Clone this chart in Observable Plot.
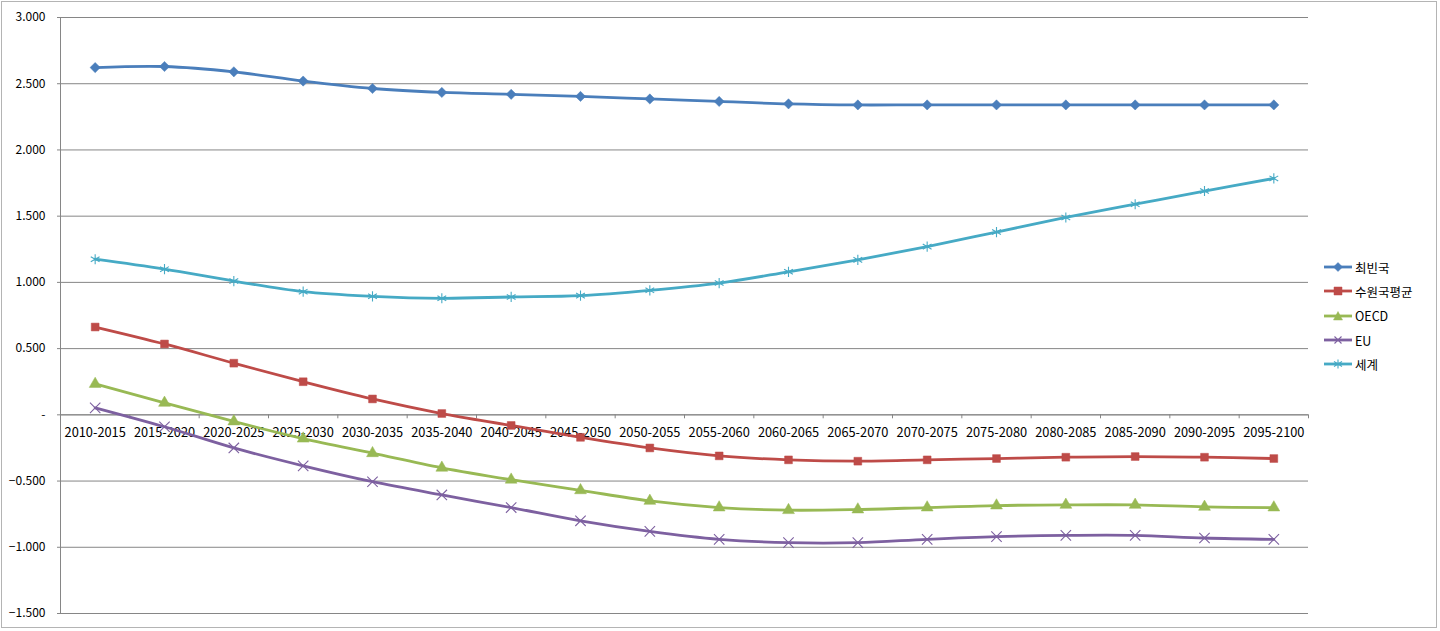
<!DOCTYPE html>
<html>
<head>
<meta charset="utf-8">
<script src="https://cdn.jsdelivr.net/npm/d3@7"></script>
<script src="https://cdn.jsdelivr.net/npm/@observablehq/plot@0.6"></script>
<style>
  body { margin: 0; background: #fff; }
  #wrap { position: relative; width: 1440px; height: 631px; overflow: hidden; }
  #border { position: absolute; left: 1px; top: 1px; width: 1434px; height: 625px; border: 1px solid #b4b4b4; pointer-events: none; }
  #legend { position: absolute; left: 1324px; top: 255px; font-family: 'Noto Sans CJK KR', 'Noto Sans', sans-serif; font-size: 12.5px; color: #000; }
  .row { display: flex; align-items: center; height: 24.3px; }
  .row svg { margin-right: 3px; }
</style>
</head>
<body>
<div id="wrap"><div id="chart"></div><div id="legend"></div><div id="border"></div></div>
<script>
const categories = ["2010-2015","2015-2020","2020-2025","2025-2030","2030-2035","2035-2040","2040-2045","2045-2050","2050-2055","2055-2060","2060-2065","2065-2070","2070-2075","2075-2080","2080-2085","2085-2090","2090-2095","2095-2100"];
const seriesNames = ["최빈국","수원국평균","OECD","EU","세계"];
const poorest = [2.622,2.630,2.590,2.520,2.464,2.434,2.420,2.404,2.385,2.366,2.348,2.340,2.340,2.340,2.340,2.340,2.340,2.340];
const recipientAvg = [0.663,0.535,0.390,0.250,0.120,0.010,-0.080,-0.170,-0.250,-0.310,-0.340,-0.350,-0.340,-0.330,-0.320,-0.315,-0.320,-0.330];
const oecd = [0.233,0.090,-0.050,-0.180,-0.290,-0.400,-0.490,-0.570,-0.650,-0.700,-0.720,-0.715,-0.700,-0.685,-0.680,-0.680,-0.695,-0.700];
const eu = [0.053,-0.090,-0.250,-0.385,-0.505,-0.605,-0.700,-0.800,-0.880,-0.940,-0.965,-0.965,-0.940,-0.920,-0.910,-0.910,-0.930,-0.940];
const world = [1.175,1.100,1.010,0.930,0.895,0.880,0.890,0.900,0.940,0.995,1.080,1.170,1.270,1.380,1.490,1.590,1.690,1.785];
const yTicks = [-1.5,-1,-0.5,0,0.5,1,1.5,2,2.5,3];

const seriesValues = [poorest, recipientAvg, oecd, eu, world];
const colors = ["#4A7EBB","#BE4B48","#98B954","#7D60A0","#46AAC5"];
const symbols = ["diamond2","square","triangle","times","asterisk"];
const filled = [true,true,true,false,false];

const W = 1440, H = 631, ML = 60, MR = 132, MT = 17, MB = 18;
const step = (W - ML - MR) / categories.length;

const data = seriesNames.flatMap((s, i) => seriesValues[i].map((v, j) => ({series: s, period: categories[j], value: v})));

const marks = [
  Plot.gridY(yTicks, {stroke: "#868686", strokeOpacity: 1}),
  Plot.axisY(yTicks, {tickSize: 3, tickPadding: 12, stroke: "#868686", fontSize: 12, label: null,
    tickFormat: d => d === 0 ? "-" : d3.format(".3f")(d)}),
  Plot.frame({anchor: "left", stroke: "#868686"}),
  Plot.ruleY([0], {stroke: "#868686"}),
  Plot.ruleX(categories, {x: d => d, y1: 0, y2: -0.03, dx: -step / 2, stroke: "#868686"}),
  Plot.ruleX([categories[categories.length - 1]], {x: d => d, y1: 0, y2: -0.03, dx: step / 2, stroke: "#868686"}),
  Plot.text(categories, {x: d => d, y: 0, dy: 18, text: d => d, fontSize: 12.8, fill: "#000"})
];
seriesNames.forEach((s, i) => {
  const d = data.filter(r => r.series === s);
  marks.push(Plot.line(d, {x: "period", y: "value", stroke: colors[i], strokeWidth: 2.8, curve: "catmull-rom"}));
  if (filled[i]) {
    marks.push(Plot.dot(d, {x: "period", y: "value", symbol: symbols[i], fill: colors[i], stroke: colors[i], strokeWidth: 0.5, r: symbols[i] === "diamond2" ? 4.6 : 4.4}));
  } else {
    marks.push(Plot.dot(d, {x: "period", y: "value", symbol: symbols[i], stroke: colors[i], fill: "none", strokeWidth: 1.1, r: 4.8}));
  }
});

const chart = Plot.plot({
  width: W, height: H,
  marginLeft: ML, marginRight: MR, marginTop: MT, marginBottom: MB,
  style: {fontFamily: "'Noto Sans CJK KR', 'Noto Sans', sans-serif", fontSize: "12px", color: "#000", background: "transparent"},
  x: {type: "point", domain: categories, padding: 0.5, round: false, axis: null},
  y: {domain: [-1.5, 3], axis: null},
  marks
});
document.getElementById("chart").appendChild(chart);

// legend
const legend = document.getElementById("legend");
const markerPath = {
  diamond2: "M14,1.5 L18.5,6 L14,10.5 L9.5,6 Z",
  square: "M10,2 L18,2 L18,10 L10,10 Z",
  triangle: "M14,1.5 L18.5,10 L9.5,10 Z",
  times: "M10.5,2.5 L17.5,9.5 M17.5,2.5 L10.5,9.5",
  asterisk: "M14,1.5 L14,10.5 M10,3.5 L18,8.5 M18,3.5 L10,8.5"
};
seriesNames.forEach((s, i) => {
  const row = document.createElement("div");
  row.className = "row";
  const f = filled[i];
  row.innerHTML = `<svg width="28" height="12"><line x1="0" y1="6" x2="28" y2="6" stroke="${colors[i]}" stroke-width="2.8"/>` +
    `<path d="${markerPath[symbols[i]]}" fill="${f ? colors[i] : "none"}" stroke="${colors[i]}" stroke-width="${f ? 0.5 : 1.1}"/></svg><span>${s}</span>`;
  legend.appendChild(row);
});
</script>
</body>
</html>
